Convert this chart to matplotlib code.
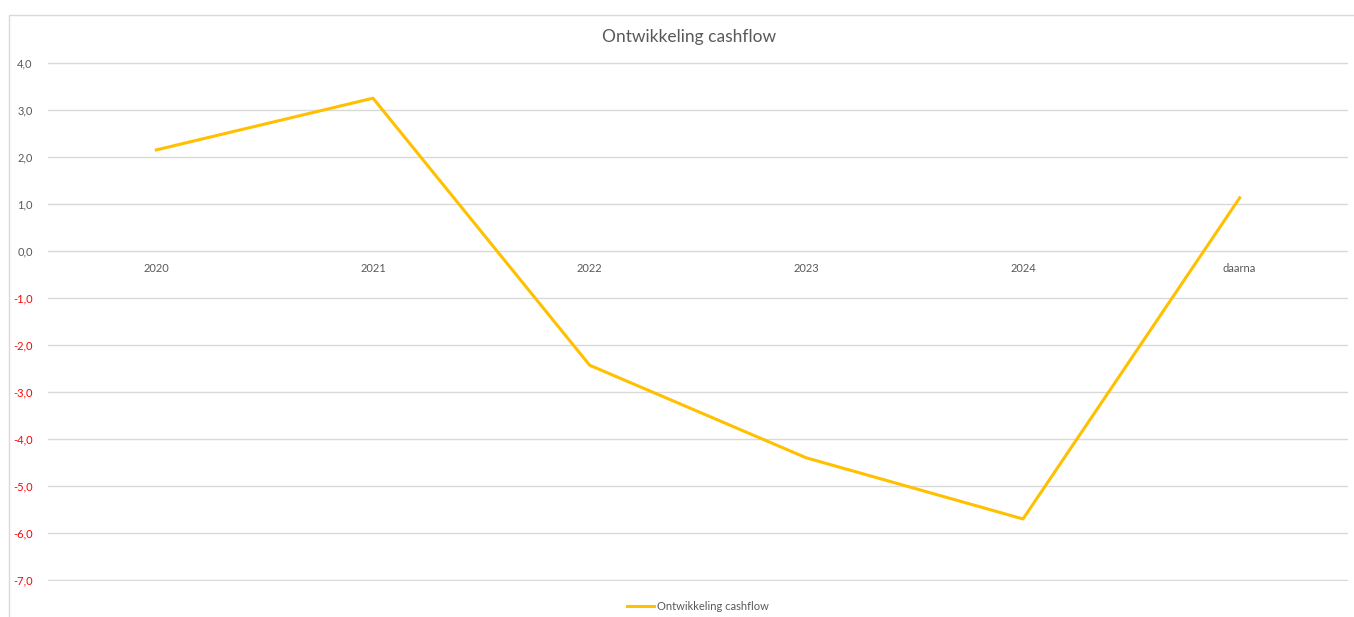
import matplotlib.pyplot as plt
from matplotlib.patches import Rectangle
from matplotlib.ticker import FuncFormatter

plt.rcParams['font.family'] = ['Lato', 'DejaVu Sans']

# Data
jaren = ['2020', '2021', '2022', '2023', '2024', 'daarna']
cashflow = [2.15, 3.25, -2.43, -4.40, -5.70, 1.13]

W, H = 1354, 617
fig = plt.figure(figsize=(W / 100, H / 100), dpi=100)
ax = fig.add_axes([48 / W, 36 / H, 1300 / W, (581 - 62) / H])

# kader van de grafiek (loopt rechts en onder uit beeld)
fig.patches.append(Rectangle((9 / W, -0.1), 1.2, 1.1 - 15 / H, transform=fig.transFigure,
                             fill=False, edgecolor='#d9d9d9', linewidth=1))

x = list(range(len(jaren)))
ax.plot(x, cashflow, color='#FFC000', linewidth=2.2, label='Ontwikkeling cashflow')

ax.set_xlim(-0.5, len(jaren) - 0.5)
ax.set_ylim(-7.02, 4.02)
ax.set_yticks(range(-7, 5))
ax.yaxis.set_major_formatter(FuncFormatter(lambda v, p: f'{v:.1f}'.replace('.', ',')))
ax.set_xticks(x)
ax.set_xticklabels(jaren)

ax.grid(axis='y', color='#d9d9d9', linewidth=1)
ax.set_axisbelow(True)
for s in ax.spines.values():
    s.set_visible(False)
ax.spines['bottom'].set_position(('data', 0))
ax.tick_params(axis='both', length=0, labelsize=8, labelcolor='#595959')
ax.tick_params(axis='x', pad=9)
ax.tick_params(axis='y', pad=11)
for lbl, v in zip(ax.get_yticklabels(), range(-7, 5)):
    if v < 0:
        lbl.set_color('#FF0000')

fig.text(689 / W, 1 - 37 / H, 'Ontwikkeling cashflow', ha='center', va='center',
         fontsize=12.5, color='#595959')
ax.legend(loc='center', bbox_to_anchor=(0.5, -25 / (581 - 62)),
          frameon=False, fontsize=8, labelcolor='#595959', handlelength=2.4,
          handletextpad=0.3)

fig.savefig('out.png', dpi=100)
